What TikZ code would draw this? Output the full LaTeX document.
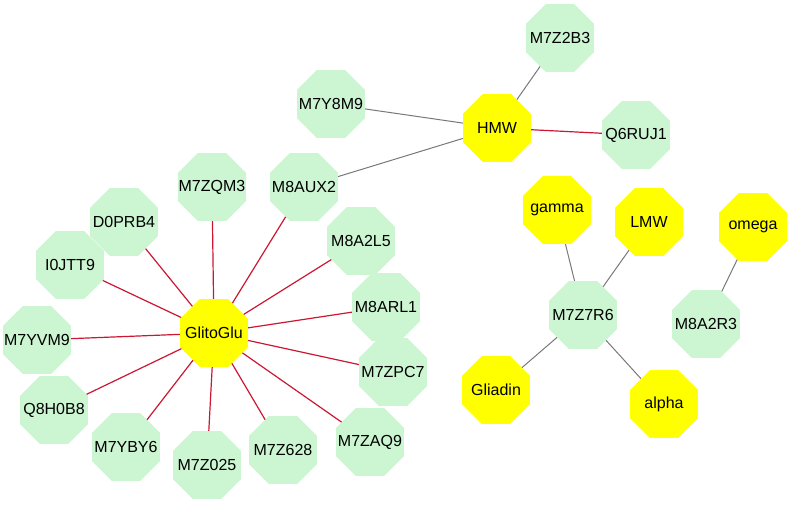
\documentclass[tikz,border=0pt]{standalone}
\usepackage{fontspec}
\setmainfont{Liberation Sans}
\usetikzlibrary{shapes.geometric}
\definecolor{protcolor}{rgb}{0.800000, 0.960000, 0.820000}
\definecolor{groupcolor}{rgb}{1.000000, 1.000000, 0.000000}
\definecolor{redlinecolor}{rgb}{0.800000, 0.090000, 0.200000}
\definecolor{graylinecolor}{rgb}{0.470000, 0.470000, 0.470000}

\begin{document}
\begin{tikzpicture}[x=1pt,y=-1pt,
  every label/.style={font=\fontsize{16}{18}\selectfont, inner sep=0pt},
  octa/.style={regular polygon, regular polygon sides=8, minimum size=73.5pt,
    inner sep=0pt, draw=none, label distance=0pt},
  prot/.style={octa, fill=protcolor},
  grp/.style={octa, fill=groupcolor},
  redlink/.style={draw=redlinecolor, line width=1.2pt},
  graylink/.style={draw=graylinecolor, line width=1pt}]
\useasboundingbox (0,0) rectangle (800,506);
% GlitoGlu star
\node[grp, label=center:GlitoGlu] (glitoglu) at (214,333) {};
\node[prot, label=center:M7YVM9] (m7yvm9) at (37,340) {};
\node[prot, label=center:Q8H0B8] (q8h0b8) at (54,410) {};
\node[prot, label=center:M7YBY6] (m7yby6) at (126,447) {};
\node[prot, label=center:M7Z025] (m7z025) at (207,465) {};
\node[prot, label=center:M7Z628] (m7z628) at (283,450) {};
\node[prot, label=center:M7ZAQ9] (m7zaq9) at (370,442) {};
\node[prot, label=center:M7ZPC7] (m7zpc7) at (393,372) {};
\node[prot, label=center:M8ARL1] (m8arl1) at (386,307) {};
\node[prot, label=center:M8A2L5] (m8a2l5) at (361,241) {};
\node[prot, label=center:M8AUX2] (m8aux2) at (304,187) {};
\node[prot, label=center:M7ZQM3] (m7zqm3) at (212,187) {};
\node[prot, label=center:D0PRB4] (d0prb4) at (124,222) {};
\node[prot, label=center:I0JTT9] (i0jtt9) at (70,265) {};
% HMW star
\node[grp, label=center:HMW] (hmw) at (497,128) {};
\node[prot, label=center:M7Z2B3] (m7z2b3) at (560,38) {};
\node[prot, label=center:M7Y8M9] (m7y8m9) at (331,104) {};
\node[prot, label=center:Q6RUJ1] (q6ruj1) at (636,135) {};
% M7Z7R6 star
\node[prot, label=center:M7Z7R6] (m7z7r6) at (583,315) {};
\node[grp, label=center:gamma] (gamma) at (557,210) {};
\node[grp, label=center:LMW] (lmw) at (649,222) {};
\node[grp, label=center:Gliadin] (gliadin) at (496,390) {};
\node[grp, label=center:alpha] (alpha) at (664,404) {};
% M8A2R3 pair
\node[prot, label=center:M8A2R3] (m8a2r3) at (706,324) {};
\node[grp, label=center:omega] (omega) at (753,227) {};
% links
\foreach \p in {m7yvm9,q8h0b8,m7yby6,m7z025,m7z628,m7zaq9,m7zpc7,m8arl1,m8a2l5,m8aux2,m7zqm3,d0prb4,i0jtt9}
  \draw[redlink] (glitoglu) -- (\p);
\draw[redlink] (hmw) -- (q6ruj1);
\foreach \p in {m7z2b3,m7y8m9,m8aux2}
  \draw[graylink] (hmw) -- (\p);
\foreach \p in {gamma,lmw,gliadin,alpha}
  \draw[graylink] (m7z7r6) -- (\p);
\draw[graylink] (m8a2r3) -- (omega);
\end{tikzpicture}
\end{document}
